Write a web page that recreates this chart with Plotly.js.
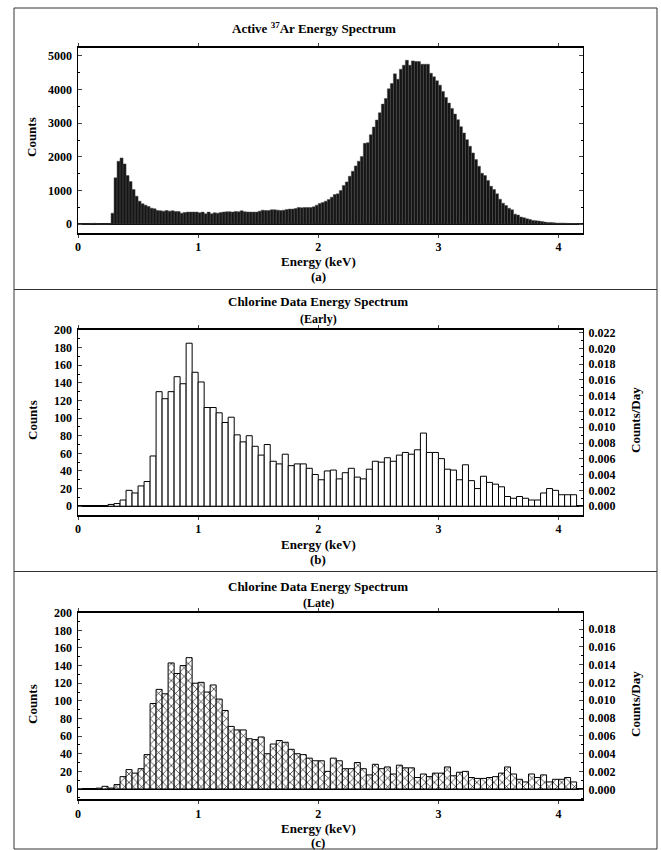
<!DOCTYPE html>
<html><head><meta charset="utf-8">
<script src="https://cdn.plot.ly/plotly-3.0.1.min.js"></script>
<style>html,body{margin:0;padding:0;background:#fff}#chart{width:661px;height:850px}</style>
</head><body><div id="chart"></div><script>
// ---- data ----
const activeBinStart = 0.0125;   // keV, centre of first bin
const activeBinWidth = 0.025;    // keV
const activeCounts = [
  5,5,5,5,20,25,10,5,5,5,
  10,326,1374,1868,1966,1789,1443,1265,1028,830,
  682,603,563,524,474,455,405,395,385,405,
  385,395,375,375,326,346,356,356,356,356,
  336,356,306,356,306,336,326,346,356,366,
  366,356,375,366,395,366,360,356,356,356,
  385,415,405,405,425,425,415,405,415,435,
  445,445,464,494,484,494,494,494,514,563,
  613,642,682,731,800,879,899,998,1146,1255,
  1423,1571,1729,1868,2006,2401,2421,2658,2885,3093,
  3310,3567,3735,4022,4180,4466,4308,4605,4723,4872,
  4723,4852,4832,4832,4753,4753,4753,4486,4377,4259,
  4130,3943,3765,3597,3439,3271,3103,2895,2708,2510,
  2312,2115,1917,1719,1512,1443,1294,1126,1028,899,
  741,623,553,474,425,296,267,208,188,158,
  138,109,99,89,79,59,49,49,40,30,
  30,30,25,20,15,15,10,10
];
const chlorineBinWidth = 0.05;
const earlyBinStart = 0.275;
const earlyCounts = [
  2,3,7,18,15,23,28,57,130,122,
  130,147,139,185,152,141,112,112,106,95,
  101,81,73,80,68,58,70,51,48,59,
  46,48,48,43,36,30,40,41,31,38,
  43,33,31,42,51,50,55,51,58,61,
  59,64,83,61,61,54,42,41,30,47,
  29,20,34,27,25,22,11,9,11,9,
  7,7,15,20,18,13,13,13
];
const lateBinStart = 0.175;
const lateCounts = [
  1,3,1,5,14,22,18,23,39,97,
  113,108,143,131,140,149,120,121,110,118,
  102,89,71,67,67,57,56,59,40,51,
  55,53,45,40,39,35,32,32,20,35,
  32,23,23,30,23,16,28,23,25,17,
  27,24,24,13,17,14,18,18,25,15,
  19,20,13,12,12,13,14,18,25,17,
  11,8,17,13,16,8,11,11,13,8
];
const energyTicks = [0,1,2,3,4];
const energyRange = [0, 4.2];
const activeRange = [-250, 5250];
const earlyRange = [-10, 200];
const earlyRateRange = [-0.00112, 0.02233];
const lateRange = [-11.7, 200];
const lateRateRange = [-0.00112, 0.01983];

// ---- helpers ----
const W = 661, H = 850;
const px = x => x / W, py = y => 1 - y / H;
const FONT = '"Liberation Serif", "DejaVu Serif", serif';
const tf = {family: FONT, size: 12, color: '#000', weight: 'bold'};

function xax(anchor) {
  return {
    domain: [px(78), px(582.6)], anchor: anchor, range: energyRange,
    tickvals: energyTicks, ticks: 'outside', ticklen: 3, tickwidth: 1,
    showline: true, linewidth: 2, linecolor: '#000', mirror: 'ticks',
    showgrid: false, zeroline: false, tickfont: tf, fixedrange: true,
    ticklabelstandoff: -1
  };
}
function yax(anchor, top, bottom, range, dtick, minor, mirror) {
  return {
    domain: [py(bottom), py(top)], anchor: anchor, range: range,
    tick0: 0, dtick: dtick, ticks: 'inside', ticklen: 4, tickwidth: 1,
    minor: {dtick: minor, ticks: 'inside', ticklen: 2, tickcolor: '#000'},
    showline: true, linewidth: 1.5, linecolor: '#000', mirror: mirror,
    showgrid: false, zeroline: true, zerolinewidth: 2, zerolinecolor: '#000',
    tickfont: tf, fixedrange: true, ticklabelstandoff: 2
  };
}
function yRate(overlay, anchor, range) {
  return {
    overlaying: overlay, side: 'right', anchor: anchor, range: range,
    tick0: 0, dtick: 0.002, tickformat: '.3f', ticks: 'inside', ticklen: 4,
    minor: {dtick: 0.001, ticks: 'inside', ticklen: 2, tickcolor: '#000'},
    showline: true, linewidth: 1.5, linecolor: '#000', showgrid: false,
    zeroline: false, tickfont: tf, fixedrange: true, ticklabelstandoff: 2
  };
}

const traces = [
  {type: 'bar', x0: activeBinStart, dx: activeBinWidth, y: activeCounts,
   xaxis: 'x', yaxis: 'y', width: activeBinWidth,
   marker: {color: '#151515', line: {color: '#4a4a4a', width: 0.5}},
   hoverinfo: 'skip', showlegend: false},
  {type: 'bar', x0: earlyBinStart, dx: chlorineBinWidth, y: earlyCounts,
   xaxis: 'x2', yaxis: 'y2', width: chlorineBinWidth,
   marker: {color: '#fff', line: {color: '#000', width: 1}},
   hoverinfo: 'skip', showlegend: false},
  {type: 'bar', x0: lateBinStart, dx: chlorineBinWidth, y: lateCounts,
   xaxis: 'x3', yaxis: 'y3', width: chlorineBinWidth,
   marker: {color: '#fff', line: {color: '#000', width: 1},
            pattern: {shape: 'x', size: 6, solidity: 0.2, fgcolor: '#000', bgcolor: '#fff', fillmode: 'replace'}},
   hoverinfo: 'skip', showlegend: false},
  {type: 'scatter', x: [null], y: [null], xaxis: 'x2', yaxis: 'y4', hoverinfo: 'skip', showlegend: false},
  {type: 'scatter', x: [null], y: [null], xaxis: 'x3', yaxis: 'y5', hoverinfo: 'skip', showlegend: false}
];

function ann(text, x, y, size, angle) {
  return {text: text, x: px(x), y: py(y), xref: 'paper', yref: 'paper',
          xanchor: 'center', yanchor: 'middle', showarrow: false,
          textangle: angle || 0,
          font: {family: FONT, size: size, color: '#000', weight: 'bold'}};
}

const layout = {
  width: W, height: H, margin: {l: 0, r: 0, t: 0, b: 0},
  paper_bgcolor: '#fff', plot_bgcolor: '#fff', bargap: 0,
  xaxis: xax('y'), yaxis: yax('x', 47.5, 232.5, activeRange, 1000, 500, 'ticks'),
  xaxis2: xax('y2'), yaxis2: yax('x2', 330, 515, earlyRange, 20, 10, false),
  xaxis3: xax('y3'), yaxis3: yax('x3', 612.7, 799.3, lateRange, 20, 10, false),
  yaxis4: yRate('y2', 'x2', earlyRateRange),
  yaxis5: yRate('y3', 'x3', lateRateRange),
  shapes: [
    {type: 'rect', xref: 'paper', yref: 'paper', x0: px(14), x1: px(657), y0: py(289.5), y1: py(8), line: {color: '#333', width: 1}},
    {type: 'rect', xref: 'paper', yref: 'paper', x0: px(14), x1: px(657), y0: py(571.5), y1: py(289.5), line: {color: '#333', width: 1}},
    {type: 'rect', xref: 'paper', yref: 'paper', x0: px(14), x1: px(657), y0: py(849), y1: py(571.5), line: {color: '#333', width: 1}}
  ],
  annotations: [
    ann('Active <sup>37</sup>Ar Energy Spectrum', 314, 28, 13),
    ann('Counts', 32, 137, 13, -90),
    ann('Energy (keV)', 318, 261, 13),
    ann('(a)', 318, 276, 13),
    ann('Chlorine Data Energy Spectrum', 318, 302, 13),
    ann('(Early)', 318, 319, 12),
    ann('Counts', 32, 420, 13, -90),
    ann('Counts/Day', 635, 420, 13, -90),
    ann('Energy (keV)', 318, 544, 13),
    ann('(b)', 318, 559, 13),
    ann('Chlorine Data Energy Spectrum', 318, 586, 13),
    ann('(Late)', 318, 603, 12),
    ann('Counts', 32, 704, 13, -90),
    ann('Counts/Day', 635, 704, 13, -90),
    ann('Energy (keV)', 318, 828, 13),
    ann('(c)', 318, 842, 13)
  ]
};

Plotly.newPlot('chart', traces, layout, {staticPlot: true, displayModeBar: false});
</script></body></html>
